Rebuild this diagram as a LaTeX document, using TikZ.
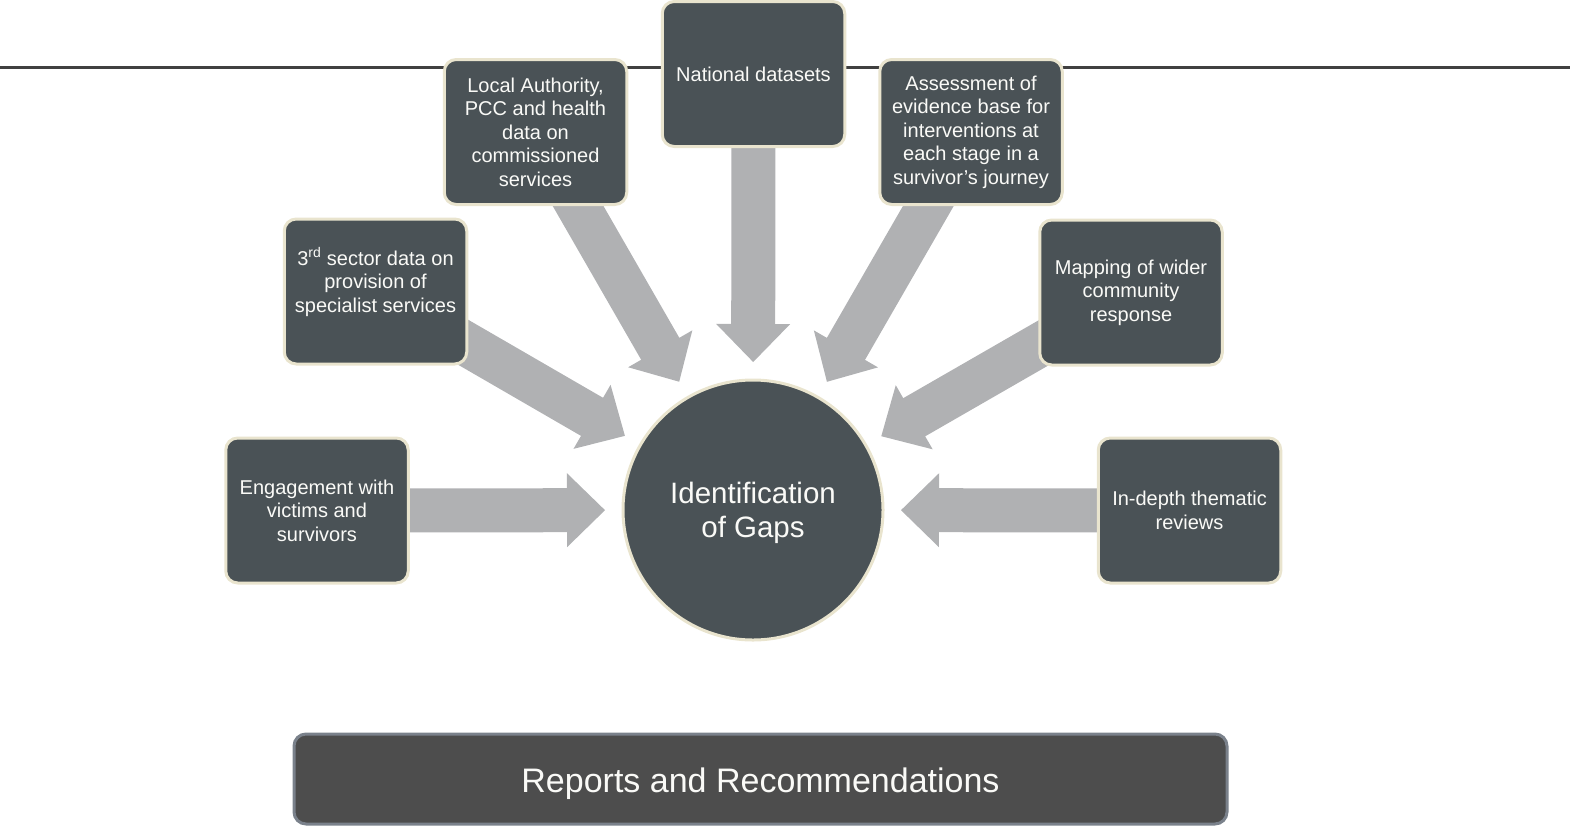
\documentclass[tikz,border=0pt]{standalone}
\usepackage{fontspec}
\setmainfont{Liberation Sans}
\usetikzlibrary{calc}
\pgfdeclarelayer{background}
\pgfsetlayers{background,main}
\definecolor{boxfill}{RGB}{74,82,86}
\definecolor{boxedge}{RGB}{233,228,206}
\definecolor{arrowgray}{RGB}{176,177,179}
\definecolor{barfill}{RGB}{77,77,77}
\definecolor{baredge}{RGB}{122,129,139}
\definecolor{rulegray}{RGB}{64,64,64}
\definecolor{txt}{RGB}{250,250,247}
\newcommand{\blockarrow}[2]{%
  \coordinate (H) at ($(#2)!38pt!(#1)$);
  \fill[arrowgray] ($(#1)!22pt!90:(#2)$) -- ($(H)!22pt!90:(#2)$) -- ($(H)!37pt!90:(#2)$) -- (#2)
    -- ($(H)!37pt!-90:(#2)$) -- ($(H)!22pt!-90:(#2)$) -- ($(#1)!22pt!-90:(#2)$) -- cycle;
}
\tikzset{
  box/.style={draw=boxedge, line width=3pt, fill=boxfill, rounded corners=12pt,
    minimum width=182.5pt, minimum height=145pt, inner sep=2pt, align=center,
    text=txt, font=\fontsize{20}{23.5}\selectfont},
  hub/.style={circle, draw=boxedge, line width=3pt, fill=boxfill, minimum size=260pt,
    inner sep=0pt},
  hubtext/.style={align=center, text=txt, font=\fontsize{29.5}{34.5}\selectfont, yshift=-3pt},
  bar/.style={draw=baredge, line width=3pt, fill=barfill, rounded corners=12pt,
    minimum width=933pt, minimum height=90pt},
  bartext/.style={text=txt, font=\fontsize{34}{40}\selectfont, yshift=-4.5pt},
  rulestyle/.style={draw=rulegray, line width=3pt}
}
\begin{document}
\begin{tikzpicture}[x=1pt,y=-1pt]
\useasboundingbox (0,0) rectangle (1570,828);

\node[box] (la) at (535.5,132) {Local Authority,\\PCC and health\\data on\\commissioned\\services};
\node[box] (nat) at (753.5,74) {National datasets};
\node[box] (ass) at (971,132) {Assessment of\\evidence base for\\interventions at\\each stage in a\\survivor’s journey};
\node[box] (third) at (375.5,291.5) {3\textsuperscript{rd} sector data on\\provision of\\specialist services\\~};
\node[box] (map) at (1131,292.5) {Mapping of wider\\community\\response};
\node[box] (eng) at (317,510.5) {Engagement with\\victims and\\survivors};
\node[box] (depth) at (1189.5,510.5) {In-depth thematic\\reviews};
\node[hub, label={[hubtext]center:Identification\\of Gaps}] (gaps) at (753,510) {};
\node[bar, label={[bartext]center:Reports and Recommendations}] (rep) at (760.5,779) {};

\coordinate (ruleL) at (0,67);
\coordinate (ruleR) at (1570,67);

\foreach \n in {la,nat,ass,third,map,eng,depth}{
  \coordinate (tip-\n) at ($(gaps.center)!148pt!(\n.center)$);
}

\begin{pgfonlayer}{background}
  \draw[rulestyle] (ruleL) -- (ruleR);
  \blockarrow{la.center}{tip-la}
  \blockarrow{nat.center}{tip-nat}
  \blockarrow{ass.center}{tip-ass}
  \blockarrow{third.center}{tip-third}
  \blockarrow{map.center}{tip-map}
  \blockarrow{eng.center}{tip-eng}
  \blockarrow{depth.center}{tip-depth}
\end{pgfonlayer}
\end{tikzpicture}
\end{document}
